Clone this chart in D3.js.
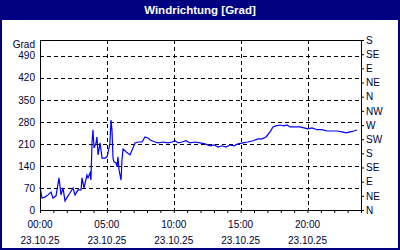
<!DOCTYPE html>
<html>
<head>
<meta charset="utf-8">
<script src="https://cdn.jsdelivr.net/npm/d3@7"></script>
<style>
  body { margin: 0; background: #fff; }
  svg { display: block; }
  text { font-family: "Liberation Sans", Arial, sans-serif; }
</style>
</head>
<body>
<div id="chart"></div>
<script>
// Windrichtung ueber einen Tag (Stunden seit 00:00, Grad)
const stunden = [0.00, 0.15, 0.37, 0.60, 0.82, 0.97, 1.20, 1.42, 1.57, 1.72, 1.87, 2.09, 2.24, 2.47, 2.62, 2.84,
  3.07, 3.14, 3.29, 3.51, 3.59, 3.74, 3.81, 3.89, 3.96, 4.04, 4.19, 4.26, 4.34, 4.49, 4.64, 4.86,
  5.01, 5.08, 5.23, 5.31, 5.38, 5.46, 5.53, 5.68, 5.76, 5.83, 5.91, 6.06, 6.13, 6.21, 6.43, 6.73,
  6.95, 7.10, 7.33, 7.63, 7.85, 8.07, 8.22, 8.37, 8.60, 8.82, 9.20, 9.57, 9.87, 10.09, 10.32, 10.62,
  10.92, 11.21, 11.59, 11.96, 12.34, 12.71, 13.01, 13.31, 13.61, 13.91, 14.21, 14.50, 14.80, 15.18,
  15.55, 15.93, 16.30, 16.60, 16.90, 17.20, 17.42, 17.64, 17.94, 18.24, 18.47, 18.69, 19.07, 19.44,
  19.74, 20.04, 20.34, 20.71, 21.08, 21.46, 21.83, 22.21, 22.58, 22.88, 23.18, 23.48, 23.70]
const grad = [73, 38, 41, 48, 57, 38, 45, 102, 48, 70, 29, 45, 54, 70, 48, 64,
  64, 102, 70, 111, 102, 118, 95, 216, 255, 197, 213, 232, 175, 213, 165, 165,
  169, 181, 213, 286, 255, 165, 153, 150, 137, 169, 127, 95, 159, 194, 185, 175,
  197, 213, 216, 216, 232, 229, 223, 220, 216, 213, 216, 213, 216, 220, 213, 216,
  220, 213, 216, 213, 210, 204, 207, 200, 204, 200, 207, 204, 210, 213,
  216, 220, 226, 226, 232, 248, 264, 267, 270, 267, 270, 264, 264, 264,
  261, 258, 261, 255, 255, 251, 251, 251, 248, 245, 248, 251, 254]

const gradTicks = [0, 70, 140, 210, 280, 350, 420, 490]
const richtungen = ["N", "NE", "E", "SE", "S", "SW", "W", "NW", "N", "NE", "E", "SE", "S"]
const zeitLabels = ["00:00", "05:00", "10:00", "15:00", "20:00"]
const datum = "23.10.25"
const titel = "Windrichtung [Grad]"

const ancho = 400, alto = 250
const navy = "#000080", textColor = "#000033"
const m = { left: 40, right: 361, top: 40, bottom: 210 }

const svg = d3.select("#chart").append("svg")
  .attr("width", ancho)
  .attr("height", alto)

// Rahmen und Titelleiste
svg.append("rect")
  .attr("x", 0).attr("y", 0).attr("width", ancho).attr("height", alto)
  .attr("fill", navy)
svg.append("rect")
  .attr("x", 2).attr("y", 20).attr("width", ancho - 4).attr("height", alto - 22)
  .attr("fill", "#fff")
svg.append("text")
  .attr("x", ancho / 2).attr("y", 14)
  .attr("text-anchor", "middle")
  .attr("fill", "#fff")
  .attr("font-weight", "bold")
  .attr("font-size", "11.5px")
  .text(titel)

const x = d3.scaleLinear().domain([0, 24]).range([m.left, m.right])
const y = d3.scaleLinear().domain([0, 540]).range([m.bottom, m.top])

// Gitter
const grid = svg.append("g")
  .attr("stroke", "#000")
  .attr("stroke-dasharray", "4,3")
  .attr("shape-rendering", "crispEdges")
grid.selectAll("line.h")
  .data(gradTicks.filter(d => d > 0))
  .enter().append("line")
  .attr("x1", m.left).attr("x2", m.right)
  .attr("y1", d => Math.round(y(d)) + 0.5).attr("y2", d => Math.round(y(d)) + 0.5)
grid.selectAll("line.v")
  .data([5, 10, 15, 20])
  .enter().append("line")
  .attr("y1", m.top).attr("y2", m.bottom)
  .attr("x1", d => Math.round(x(d)) + 0.5).attr("x2", d => Math.round(x(d)) + 0.5)

// Linke Achse
const yAxis = svg.append("g")
  .attr("transform", `translate(${m.left},0)`)
  .call(d3.axisLeft(y).tickValues(gradTicks).tickSize(0).tickPadding(5))
yAxis.select(".domain").remove()
yAxis.selectAll("text")
  .attr("font-size", "10px")
  .attr("font-family", "Liberation Sans, Arial, sans-serif")
  .attr("fill", textColor)
svg.append("text")
  .attr("x", m.left - 5).attr("y", m.top + 8)
  .attr("text-anchor", "end")
  .attr("font-size", "10px")
  .attr("fill", textColor)
  .text("Grad")

// Rechte Achse (Himmelsrichtungen)
const yR = d3.scaleLinear().domain([0, 12]).range([m.bottom, m.top])
const rAxis = svg.append("g")
  .attr("transform", `translate(${m.right},0)`)
  .call(d3.axisRight(yR).tickValues(d3.range(richtungen.length))
    .tickFormat(i => richtungen[i]).tickSize(3).tickPadding(2))
rAxis.select(".domain").remove()
rAxis.selectAll("line").attr("stroke", "#000")
rAxis.selectAll("text")
  .attr("font-size", "10px")
  .attr("font-family", "Liberation Sans, Arial, sans-serif")
  .attr("fill", textColor)

// Untere Achse
const xAxis = svg.append("g")
  .attr("transform", `translate(0,${m.bottom})`)
  .call(d3.axisBottom(x).tickValues(d3.range(0, 25)).tickSize(3).tickFormat(""))
xAxis.select(".domain").remove()
xAxis.selectAll("line").attr("stroke", "#000")

const xl = svg.append("g")
xl.selectAll("text.z")
  .data(zeitLabels)
  .enter().append("text")
  .attr("x", (d, i) => x(i * 5))
  .attr("y", 228)
  .attr("text-anchor", "middle")
  .attr("font-size", "10px")
  .attr("fill", textColor)
  .text(d => d)
xl.selectAll("text.d")
  .data(zeitLabels)
  .enter().append("text")
  .attr("x", (d, i) => x(i * 5))
  .attr("y", 244)
  .attr("text-anchor", "middle")
  .attr("font-size", "10px")
  .attr("fill", textColor)
  .text(datum)

// Datenlinie
const line = d3.line()
  .x((d, i) => x(stunden[i]))
  .y(d => y(d))
svg.append("path")
  .datum(grad)
  .attr("d", line)
  .attr("fill", "none")
  .attr("stroke", "#0000ff")
  .attr("stroke-width", 1.2)

// Plotrahmen
svg.append("rect")
  .attr("x", m.left + 0.5).attr("y", m.top + 0.5)
  .attr("width", m.right - m.left).attr("height", m.bottom - m.top)
  .attr("fill", "none")
  .attr("stroke", "#000")
  .attr("shape-rendering", "crispEdges")
</script>
</body>
</html>
